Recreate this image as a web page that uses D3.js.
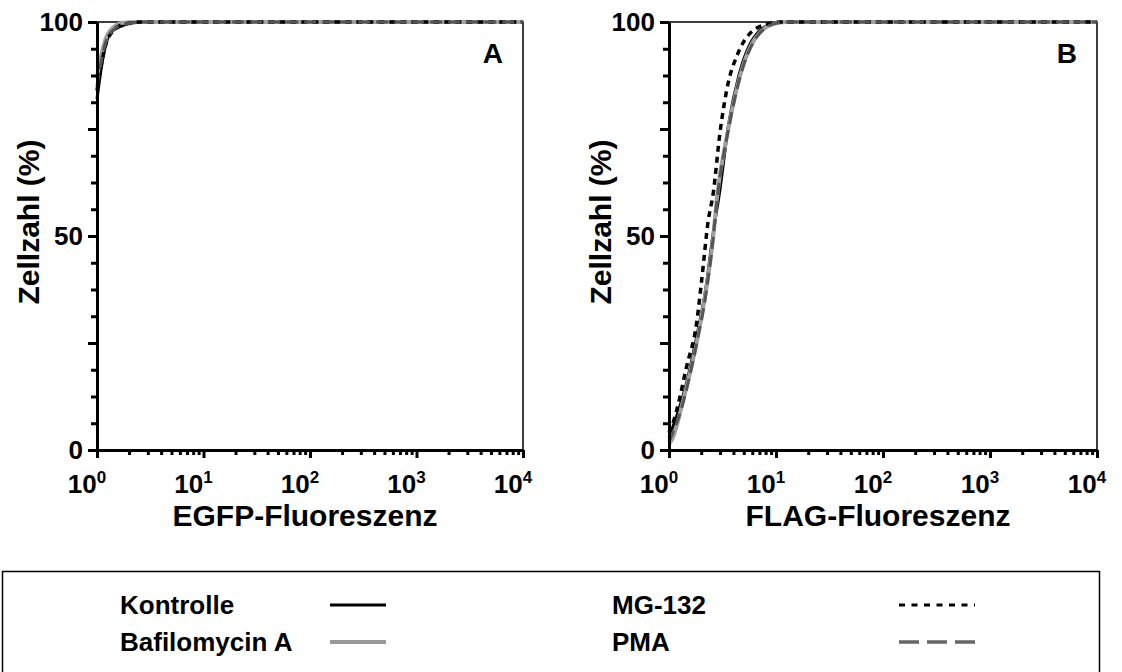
<!DOCTYPE html>
<html lang="de">
<head>
<meta charset="UTF-8">
<title>Zellzahl vs Fluoreszenz</title>
<style>
    body { margin: 0; background: #fff; font-family: "Liberation Sans", Arial, sans-serif; }
    svg { display: block; }
    text { font-weight: bold; fill: #000; font-family: "Liberation Sans", Arial, sans-serif; }
</style>
</head>
<body>
<div id="chart"></div>
<script src="https://d3js.org/d3.v7.min.js"></script>
<script>
// ---- data: [fluorescence, cell count %] ----
const kontrolleA = [[1, 82], [1.05, 86], [1.1, 89.5], [1.19, 94], [1.32, 97.3], [1.64, 98.9], [2.2, 99.8], [3, 100], [10000, 100]];
const bafilomycinA = [[1, 87], [1.06, 90.5], [1.23, 96.6], [1.53, 99.3], [1.75, 99.8], [2.5, 100], [10000, 100]];
const mg132A = [[1, 84], [1.08, 89], [1.2, 94.5], [1.4, 97.8], [1.8, 99.5], [2.6, 100], [10000, 100]];
const pmaA = [[1, 85], [1.08, 90], [1.22, 95.5], [1.45, 98.3], [1.9, 99.6], [2.6, 100], [10000, 100]];

const kontrolleB = [[1, 3], [1.2, 8.5], [1.4, 14], [1.8, 26], [2.2, 37.5], [2.6, 51], [3, 61], [3.6, 76], [4.5, 87.5], [6.4, 96.8], [9.5, 99.7], [12, 100], [10000, 100]];
const bafilomycinB = [[1, 1.5], [1.06, 2.3], [1.36, 11.7], [1.81, 25], [2.17, 35.8], [2.59, 49.8], [2.79, 58.4], [3.57, 74.8], [4.59, 87.2], [6.58, 96.6], [10, 99.7], [13, 100], [10000, 100]];
const mg132B = [[1, 4], [1.06, 5.4], [1.18, 9.3], [1.46, 19.5], [1.81, 29.6], [2.02, 39.7], [2.33, 53.7], [2.59, 60], [2.99, 74], [3.57, 85.7], [4.28, 91.9], [6.11, 98], [9.3, 99.8], [11, 100], [10000, 100]];
const pmaB = [[1, 2], [1.3, 9.5], [1.8, 24.5], [2.2, 36], [2.6, 50], [2.8, 58], [3.6, 75], [4.6, 87], [6.6, 96.5], [10, 99.7], [13, 100], [10000, 100]];

const xTickValues = [1, 10, 100, 1000, 10000];
const yTickValues = [0, 50, 100];
const seriesNames = ["Kontrolle", "Bafilomycin A", "MG-132", "PMA"];

const panels = [
    { letter: "A", xTitle: "EGFP-Fluoreszenz", left: 97, right: 523,
      series: [kontrolleA, bafilomycinA, mg132A, pmaA] },
    { letter: "B", xTitle: "FLAG-Fluoreszenz", left: 669, right: 1097,
      series: [kontrolleB, bafilomycinB, mg132B, pmaB] }
];

const styles = [
    { stroke: "#000", width: 3, dash: null },
    { stroke: "#a0a0a0", width: 4, dash: null },
    { stroke: "#000", width: 3.5, dash: "6,5" },
    { stroke: "#555", width: 3, dash: "12,6" }
];

const width = 1122, height = 672;
const plotTop = 22, plotBottom = 450;

const svg = d3.select("#chart").append("svg")
    .attr("width", width)
    .attr("height", height);

panels.forEach(p => {
    const x = d3.scaleLog().domain([1, 10000]).range([p.left, p.right]);
    const y = d3.scaleLinear().domain([0, 100]).range([plotBottom, plotTop]);
    const g = svg.append("g");

    // frame (thin top + right)
    g.append("path")
        .attr("d", `M${p.left},${plotTop}H${p.right}V${plotBottom}`)
        .attr("fill", "none")
        .attr("stroke", "#000")
        .attr("stroke-width", 1.5);

    // curves
    const line = d3.line()
        .x(d => x(d[0]))
        .y(d => y(d[1]))
        .curve(d3.curveMonotoneX);
    p.series.forEach((s, i) => {
        g.append("path")
            .datum(s)
            .attr("d", line)
            .attr("fill", "none")
            .attr("stroke", styles[i].stroke)
            .attr("stroke-width", styles[i].width)
            .attr("stroke-dasharray", styles[i].dash)
            .attr("stroke-linejoin", "round");
    });

    // x axis: minor + major ticks
    const minor = [];
    for (let d = 1; d < 10000; d *= 10)
        for (let k = 2; k <= 9; k++) minor.push(d * k);
    g.append("g")
        .attr("transform", `translate(0,${plotBottom})`)
        .call(d3.axisBottom(x).tickValues(minor).tickSize(5).tickFormat(""))
        .call(a => a.select(".domain").remove());
    g.append("g")
        .attr("transform", `translate(0,${plotBottom})`)
        .call(d3.axisBottom(x).tickValues(xTickValues).tickSize(8).tickSizeOuter(0).tickFormat(""))
        .call(a => a.select(".domain").attr("stroke-width", 3));
    g.selectAll(".tick line").attr("stroke-width", 3);

    // x tick labels 10^n
    g.append("g").selectAll("text")
        .data(xTickValues)
        .join("text")
        .attr("x", d => x(d) - 10)
        .attr("y", 493)
        .attr("text-anchor", "middle")
        .attr("font-size", 26)
        .call(t => t.append("tspan").text("10"))
        .call(t => t.append("tspan")
            .attr("dy", -10)
            .attr("font-size", 17)
            .text(d => Math.round(Math.log10(d))));

    // y axis
    const yMinor = d3.range(0, 100.1, 6.25).filter(v => v % 25 !== 0);
    const yMid = [25, 75];
    g.append("g")
        .attr("transform", `translate(${p.left},0)`)
        .call(d3.axisLeft(y).tickValues(yMinor).tickSize(6).tickFormat(""))
        .call(a => a.select(".domain").remove());
    g.append("g")
        .attr("transform", `translate(${p.left},0)`)
        .call(d3.axisLeft(y).tickValues(yMid).tickSize(9).tickFormat(""))
        .call(a => a.select(".domain").remove());
    g.append("g")
        .attr("transform", `translate(${p.left},0)`)
        .call(d3.axisLeft(y).tickValues(yTickValues).tickSize(9).tickSizeOuter(0).tickPadding(5))
        .call(a => a.select(".domain").attr("stroke-width", 3))
        .call(a => a.selectAll("text")
            .attr("font-size", 26)
            .attr("font-family", "Liberation Sans, Arial, sans-serif")
            .attr("font-weight", "bold")
            .attr("fill", "#000"));
    g.selectAll(".tick line").attr("stroke-width", 3);

    // axis titles
    g.append("text")
        .attr("x", (p.left + p.right) / 2 - 5)
        .attr("y", 526)
        .attr("text-anchor", "middle")
        .attr("font-size", 30)
        .text(p.xTitle);
    g.append("text")
        .attr("transform", `translate(${p.left - 58},222) rotate(-90)`)
        .attr("text-anchor", "middle")
        .attr("font-size", 30)
        .text("Zellzahl (%)");

    // panel letter
    g.append("text")
        .attr("x", p.right - 20)
        .attr("y", 63)
        .attr("text-anchor", "end")
        .attr("font-size", 28)
        .text(p.letter);
});

// legend
const legend = svg.append("g");
legend.append("rect")
    .attr("x", 2.5)
    .attr("y", 571.5)
    .attr("width", 1097)
    .attr("height", 120)
    .attr("fill", "none")
    .attr("stroke", "#000")
    .attr("stroke-width", 1.5);

const legendPos = [
    { tx: 120, lx: 330, ly: 605 },
    { tx: 120, lx: 330, ly: 642 },
    { tx: 612, lx: 899, ly: 605 },
    { tx: 612, lx: 899, ly: 642 }
];
const legendStyles = [
    { stroke: "#000", width: 3, dash: null, len: 56 },
    { stroke: "#999", width: 4, dash: null, len: 56 },
    { stroke: "#000", width: 3, dash: "6,6.5", len: 76 },
    { stroke: "#666", width: 3.5, dash: "20,8", len: 76 }
];
seriesNames.forEach((name, i) => {
    const pos = legendPos[i], st = legendStyles[i];
    legend.append("text")
        .attr("x", pos.tx)
        .attr("y", pos.ly + 9)
        .attr("font-size", 26)
        .text(name);
    legend.append("line")
        .attr("x1", pos.lx)
        .attr("x2", pos.lx + st.len)
        .attr("y1", pos.ly)
        .attr("y2", pos.ly)
        .attr("stroke", st.stroke)
        .attr("stroke-width", st.width)
        .attr("stroke-dasharray", st.dash);
});
</script>
</body>
</html>
